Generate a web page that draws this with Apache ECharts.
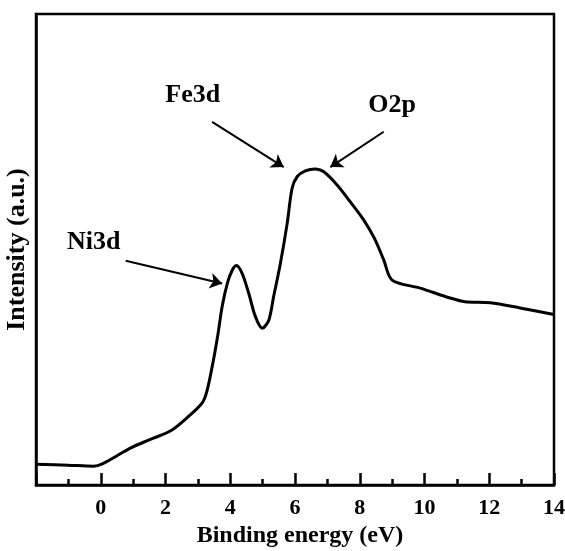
<!DOCTYPE html>
<html>
<head>
<meta charset="utf-8">
<script src="https://cdn.jsdelivr.net/npm/echarts@6/dist/echarts.min.js"></script>
<style>
html,body{margin:0;padding:0;background:#fff;}
#c{width:565px;height:551px;}
</style>
</head>
<body>
<div id="c"></div>
<script>
// Binding energy (eV) and intensity (a.u.)
const energy = [-2, -1, -0.22, 0.05, 0.5, 0.93, 1.5, 2.16, 2.7, 3.14, 3.29, 3.48, 3.62, 3.75, 3.91, 4.06, 4.19, 4.37, 4.57, 4.78, 4.99, 5.19, 5.34, 5.55, 5.76, 5.91, 6.07, 6.32, 6.63, 6.89, 7.30, 7.71, 8.12, 8.45, 8.74, 9.0, 9.87, 10.79, 11.25, 12.03, 12.95, 14];
const intensity = [4.4, 4.2, 4.0, 4.5, 6.2, 7.9, 9.6, 11.5, 14.5, 17.5, 20.2, 26.5, 32, 37.9, 42.8, 45.6, 46.6, 44.9, 40.7, 35.7, 33.3, 35.0, 40.0, 47.1, 55.6, 63.0, 65.5, 66.7, 67.1, 66.5, 63.7, 60.1, 56.3, 52.4, 47.8, 43.5, 41.8, 39.7, 38.9, 38.7, 37.6, 36.2];

// Peak annotations
const peakNames = ['Fe3d', 'O2p', 'Ni3d'];
const peakLabelX = [2.84, 9.0, -0.22];
const peakLabelY = [82.8, 80.6, 51.6];
const arrowStartX = [3.44, 8.74, 0.77];
const arrowStartY = [77.1, 75.0, 47.6];
const arrowEndX = [5.65, 7.09, 3.75];
const arrowEndY = [67.5, 67.5, 42.8];

const xTicks = [0, 2, 4, 6, 8, 10, 12, 14];

const FONT = "'Liberation Serif', 'Times New Roman', serif";

const chart = echarts.init(document.getElementById('c'));
const lineData = energy.map((e, i) => [e, intensity[i]]);
const labelData = peakNames.map((n, i) => ({ name: n, value: [peakLabelX[i], peakLabelY[i]] }));
const arrows = peakNames.map((n, i) => [
  { coord: [arrowStartX[i], arrowStartY[i]] },
  { coord: [arrowEndX[i], arrowEndY[i]] }
]);

chart.setOption({
  animation: false,
  backgroundColor: '#fff',
  grid: {
    left: 36, right: 11, top: 14, bottom: 66,
    outerBoundsMode: 'none', containLabel: false,
    show: true, borderColor: '#000', borderWidth: 2.5, backgroundColor: 'transparent'
  },
  xAxis: {
    type: 'value', min: -2, max: 14, interval: 2,
    name: 'Binding energy (eV)', nameLocation: 'middle', nameGap: 29,
    nameTextStyle: { fontFamily: FONT, fontWeight: 'bold', fontSize: 24, color: '#000', padding: [0, 0, 0, 10] },
    axisLine: { show: true, onZero: false, lineStyle: { color: '#000', width: 2.5 } },
    axisTick: { show: true, inside: true, length: 12, lineStyle: { color: '#000', width: 2.5 } },
    minorTick: { show: true, splitNumber: 2, length: 6, lineStyle: { color: '#000', width: 2.5 } },
    splitLine: { show: false },
    axisLabel: {
      margin: 12, fontFamily: FONT, fontWeight: 'bold', fontSize: 22, color: '#000',
      formatter: v => (xTicks.indexOf(v) >= 0 ? String(v) : '')
    }
  },
  yAxis: {
    type: 'value', min: 0, max: 100,
    name: 'Intensity (a.u.)', nameLocation: 'middle', nameGap: 6, nameRotate: 90,
    nameTextStyle: { fontFamily: FONT, fontWeight: 'bold', fontSize: 26, color: '#000' },
    axisLine: { show: true, onZero: false, lineStyle: { color: '#000', width: 2.5 } },
    axisTick: { show: false },
    axisLabel: { show: false },
    splitLine: { show: false }
  },
  series: [
    {
      type: 'line', data: lineData, smooth: 0.3, showSymbol: false,
      lineStyle: { color: '#000', width: 3 },
      markLine: {
        silent: true, symbol: ['none', 'arrow'], symbolSize: 12,
        lineStyle: { color: '#000', width: 2, type: 'solid' },
        label: { show: false },
        data: arrows
      }
    },
    {
      type: 'scatter', data: labelData, symbolSize: 0,
      itemStyle: { opacity: 1, color: '#000' },
      label: {
        show: true, position: 'inside', formatter: p => p.name, opacity: 1,
        fontFamily: FONT, fontWeight: 'bold', fontSize: 26, color: '#000',
        textBorderWidth: 0
      }
    }
  ]
});
</script>
</body>
</html>
